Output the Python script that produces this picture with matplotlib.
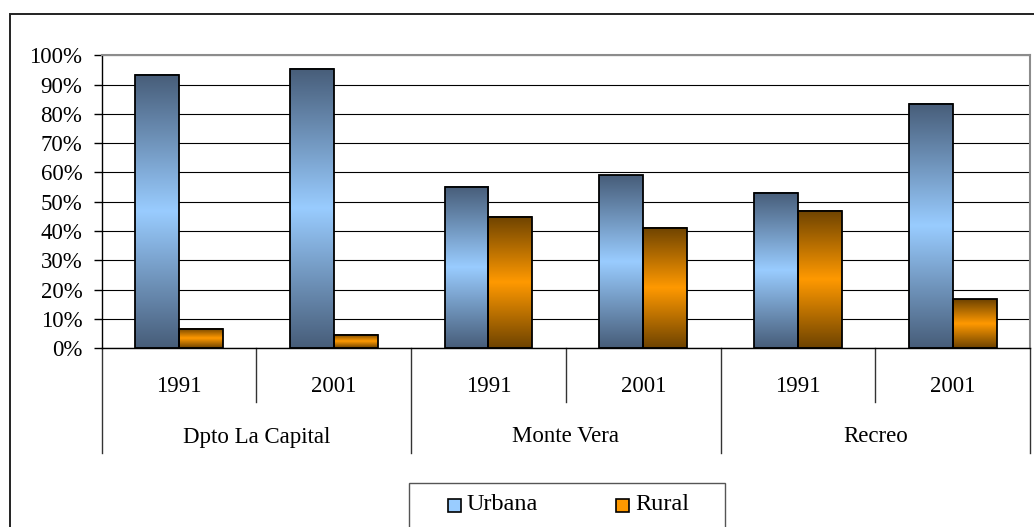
import numpy as np
import matplotlib
matplotlib.use("Agg")
import matplotlib.pyplot as plt
from matplotlib.colors import LinearSegmentedColormap
from matplotlib.patches import Rectangle
from matplotlib.lines import Line2D

# ---- data ----
groups = ["Dpto La Capital", "Monte Vera", "Recreo"]
years = ["1991", "2001", "1991", "2001", "1991", "2001"]
urbana = [93.4, 95.4, 55.2, 59.0, 53.1, 83.3]
rural = [6.6, 4.6, 44.8, 41.0, 46.9, 16.7]
series_names = ["Urbana", "Rural"]
yticks = [0, 10, 20, 30, 40, 50, 60, 70, 80, 90, 100]

plt.rcParams['font.family'] = ['Liberation Serif', 'DejaVu Serif']

W, H = 1034, 527
fig = plt.figure(figsize=(W / 100, H / 100), dpi=100)
fig.patch.set_facecolor('white')

def fx(px):
    return px / W

def fy(py):
    return 1 - py / H

ax_l, ax_r, ax_t, ax_b = 101.7, 1030, 55.3, 348.3
ax = fig.add_axes([fx(ax_l), fy(ax_b), fx(ax_r - ax_l), (ax_b - ax_t) / H])

# outer chart border
fig.patches.append(Rectangle((fx(10), fy(560)), fx(1040), (560 - 14) / H,
                             transform=fig.transFigure, fill=False,
                             edgecolor='#222222', lw=1.4, zorder=0))

blue_cmap = LinearSegmentedColormap.from_list(
    'b', [(0, '#475D79'), (0.5, '#99CCFF'), (1, '#475D79')])
orange_cmap = LinearSegmentedColormap.from_list(
    'o', [(0, '#6E4300'), (0.5, '#FF9900'), (1, '#6E4300')])

bw = 0.284
x = np.arange(len(years))
grad = np.linspace(0, 1, 256).reshape(-1, 1)

def gbar(x0, h, cmap):
    ax.imshow(grad, cmap=cmap, aspect='auto', extent=(x0, x0 + bw, 0, h),
              origin='upper', zorder=2, interpolation='bilinear')
    ax.add_patch(Rectangle((x0, 0), bw, h, fill=False, edgecolor='black',
                           lw=1.3, zorder=3))

for i in range(len(years)):
    gbar(x[i] - bw, urbana[i], blue_cmap)
    gbar(x[i], rural[i], orange_cmap)

FS = 16.5
ax.set_xlim(-0.5, len(years) - 0.5)
ax.set_ylim(0, 100)
ax.set_yticks(yticks)
ax.set_yticklabels([f"{v}%" for v in yticks], fontsize=FS)
ax.yaxis.grid(True, color='black', lw=0.8, zorder=1)
ax.set_axisbelow(True)
ax.set_xticks([])
ax.tick_params(axis='y', length=6, width=1, pad=8, color='black')

for s in ['top', 'right']:
    ax.spines[s].set_color('#8c8c8c')
    ax.spines[s].set_linewidth(1.5)
ax.spines['left'].set_color('black')
ax.spines['bottom'].set_color('black')
ax.spines['left'].set_linewidth(1)
ax.spines['bottom'].set_linewidth(1)

tr = ax.get_xaxis_transform()
hpx = ax_b - ax_t
def ay(py):
    return (ax_b - py) / hpx

# separators
for i in range(len(years) + 1):
    xb = i - 0.5
    bottom = 453 if i % 2 == 0 else 402
    ax.add_line(Line2D([xb, xb], [0, ay(bottom)], transform=tr, color='#333333',
                       lw=1, clip_on=False))
for i, yr in enumerate(years):
    ax.text(i, ay(387), yr, transform=tr, ha='center', va='center', fontsize=FS)
for g, name in enumerate(groups):
    ax.text(2 * g + 0.5, ay(437), name, transform=tr, ha='center', va='center',
            fontsize=FS)

# legend (manual)
fig.patches.append(Rectangle((fx(409), fy(540)), fx(725 - 409), (540 - 482.7) / H,
                             transform=fig.transFigure, fill=False,
                             edgecolor='#555555', lw=1, zorder=5))
leg_items = [(448, 467, '#99CCFF', series_names[0]), (616, 635, '#FF9900', series_names[1])]
for mx, tx, col, lab in leg_items:
    fig.patches.append(Rectangle((fx(mx), fy(512)), fx(13), 13 / H,
                                 transform=fig.transFigure, facecolor=col,
                                 edgecolor='black', lw=1.2, zorder=6))
    fig.text(fx(tx), fy(505), lab, ha='left', va='center', fontsize=17.5)

fig.savefig('out.png', dpi=100)
